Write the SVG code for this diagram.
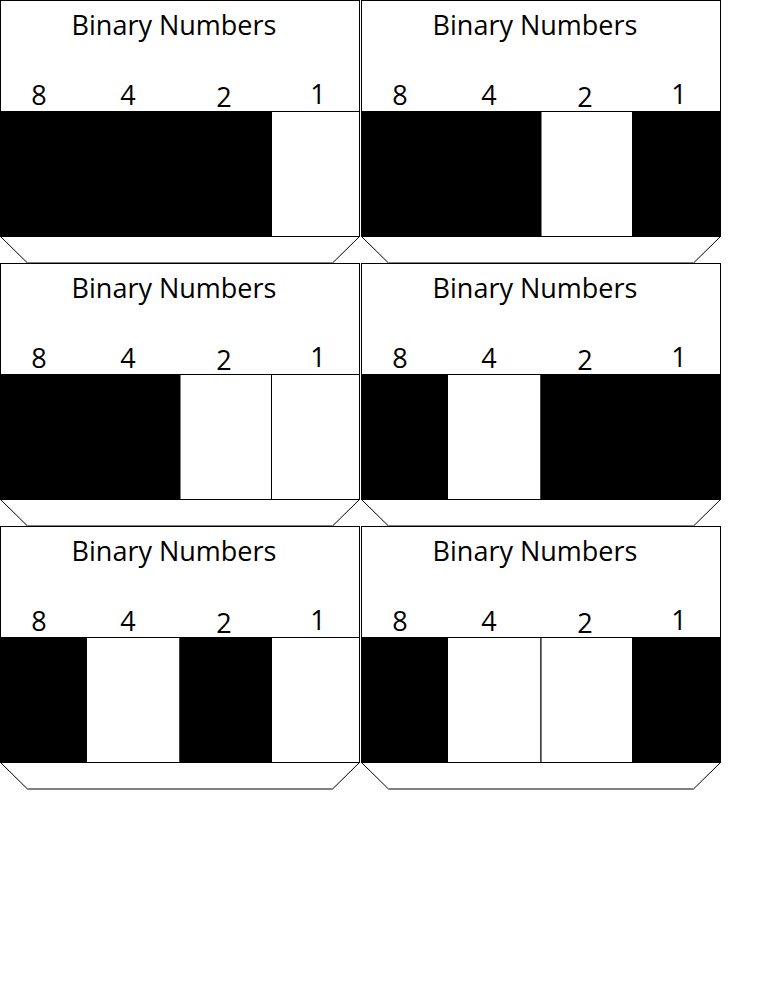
<svg xmlns="http://www.w3.org/2000/svg" width="768" height="1008" viewBox="0 0 768 1008">
<defs>
<style>
.frame{fill:#fff;stroke:#000;stroke-width:1}
.on{fill:#000;stroke:#000;stroke-width:1}
.off{fill:#fff;stroke:#000;stroke-width:1}
.title{font-family:"Open Sans","Noto Sans",sans-serif;font-size:27px;fill:#000;text-anchor:middle}
.num{font-family:"Open Sans","Noto Sans",sans-serif;font-size:27px;fill:#000;text-anchor:middle}
</style>
<g id="base">
<polygon class="frame" points="0.5,236.5 359.5,236.5 332.5,263 27.5,263"/>
<rect class="frame" x="0.5" y="0.5" width="359" height="111"/>
<text class="title" x="174" y="35">Binary Numbers</text>
<text class="num" x="39" y="105">8</text>
<text class="num" x="128" y="105">4</text>
<text class="num" x="224" y="107">2</text>
<text class="num" x="318" y="104">1</text>
</g>
</defs>
<rect width="768" height="1008" fill="#fff"/>
<g id="card-14" transform="translate(0,0)">
<use href="#base"/>
<rect class="on" x="0.5" y="111.5" width="86" height="125"/>
<rect class="on" x="86.5" y="111.5" width="93.5" height="125"/>
<rect class="on" x="180" y="111.5" width="91.5" height="125"/>
<rect class="off" x="271.5" y="111.5" width="88" height="125"/>
</g>
<g id="card-13" transform="translate(361,0)">
<use href="#base"/>
<rect class="on" x="0.5" y="111.5" width="86" height="125"/>
<rect class="on" x="86.5" y="111.5" width="93.5" height="125"/>
<rect class="off" x="180" y="111.5" width="91.5" height="125"/>
<rect class="on" x="271.5" y="111.5" width="88" height="125"/>
</g>
<g id="card-12" transform="translate(0,263)">
<use href="#base"/>
<rect class="on" x="0.5" y="111.5" width="86" height="125"/>
<rect class="on" x="86.5" y="111.5" width="93.5" height="125"/>
<rect class="off" x="180" y="111.5" width="91.5" height="125"/>
<rect class="off" x="271.5" y="111.5" width="88" height="125"/>
</g>
<g id="card-11" transform="translate(361,263)">
<use href="#base"/>
<rect class="on" x="0.5" y="111.5" width="86" height="125"/>
<rect class="off" x="86.5" y="111.5" width="93.5" height="125"/>
<rect class="on" x="180" y="111.5" width="91.5" height="125"/>
<rect class="on" x="271.5" y="111.5" width="88" height="125"/>
</g>
<g id="card-10" transform="translate(0,526)">
<use href="#base"/>
<rect class="on" x="0.5" y="111.5" width="86" height="125"/>
<rect class="off" x="86.5" y="111.5" width="93.5" height="125"/>
<rect class="on" x="180" y="111.5" width="91.5" height="125"/>
<rect class="off" x="271.5" y="111.5" width="88" height="125"/>
</g>
<g id="card-9" transform="translate(361,526)">
<use href="#base"/>
<rect class="on" x="0.5" y="111.5" width="86" height="125"/>
<rect class="off" x="86.5" y="111.5" width="93.5" height="125"/>
<rect class="off" x="180" y="111.5" width="91.5" height="125"/>
<rect class="on" x="271.5" y="111.5" width="88" height="125"/>
</g>
<g id="connectors"/>
</svg>
